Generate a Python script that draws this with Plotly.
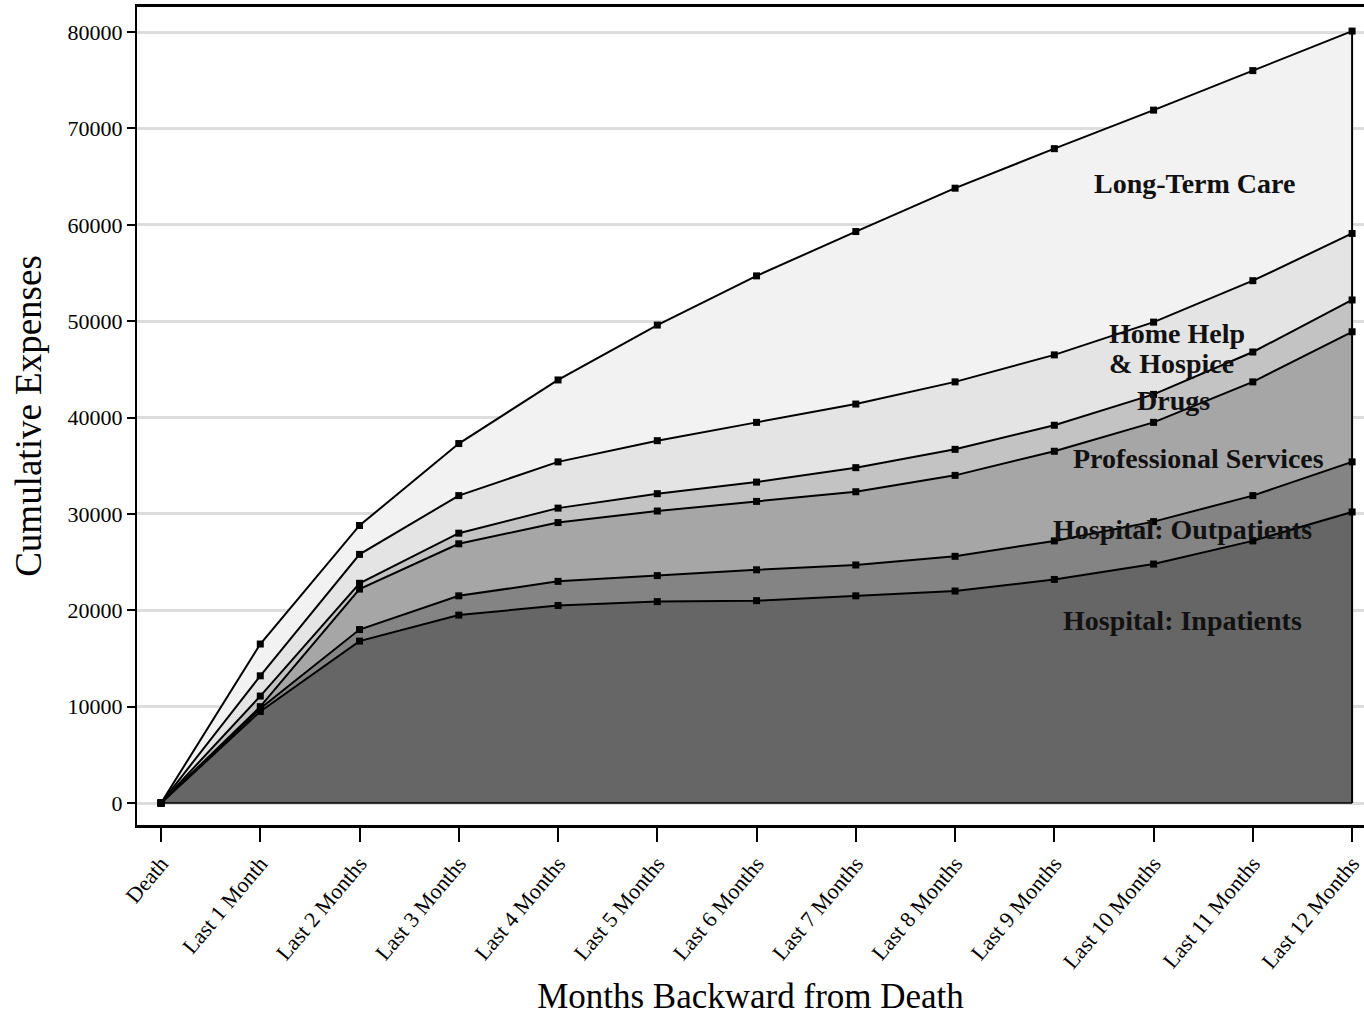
import plotly.graph_objects as go

categories = ["Death", "Last 1 Month", "Last 2 Months", "Last 3 Months", "Last 4 Months",
              "Last 5 Months", "Last 6 Months", "Last 7 Months", "Last 8 Months",
              "Last 9 Months", "Last 10 Months", "Last 11 Months", "Last 12 Months"]

# cumulative (stacked) totals
inpatients    = [0, 9500, 16800, 19500, 20500, 20900, 21000, 21500, 22000, 23200, 24800, 27200, 30200]
outpatients   = [0, 9800, 18000, 21500, 23000, 23600, 24200, 24700, 25600, 27200, 29200, 31900, 35400]
professional  = [0, 10000, 22200, 26900, 29100, 30300, 31300, 32300, 34000, 36500, 39500, 43700, 48900]
drugs         = [0, 11100, 22800, 28000, 30600, 32100, 33300, 34800, 36700, 39200, 42400, 46800, 52200]
home_help     = [0, 13200, 25800, 31900, 35400, 37600, 39500, 41400, 43700, 46500, 49900, 54200, 59100]
long_term     = [0, 16500, 28800, 37300, 43900, 49600, 54700, 59300, 63800, 67900, 71900, 76000, 80100]

series = [
    ("Hospital: Inpatients", inpatients, "#666666"),
    ("Hospital: Outpatients", outpatients, "#848484"),
    ("Professional Services", professional, "#a6a6a6"),
    ("Drugs", drugs, "#c3c3c3"),
    ("Home Help & Hospice", home_help, "#e4e4e4"),
    ("Long-Term Care", long_term, "#f2f2f2"),
]

labels = [
    ("Long-Term Care", 10.41, 64300),
    ("Home Help", 10.24, 48700),
    ("& Hospice", 10.18, 45600),
    ("Drugs", 10.20, 41800),
    ("Professional Services", 10.45, 35800),
    ("Hospital: Outpatients", 10.29, 28400),
    ("Hospital: Inpatients", 10.29, 18900),
]

y_ticks = [0, 10000, 20000, 30000, 40000, 50000, 60000, 70000, 80000]

xs = list(range(len(categories)))
fig = go.Figure()
for i, (name, vals, col) in enumerate(series):
    fig.add_trace(go.Scatter(
        x=xs, y=vals, name=name, mode="lines+markers",
        fill="tozeroy" if i == 0 else "tonexty", fillcolor=col,
        line=dict(color="black", width=2),
        marker=dict(symbol="square", size=7, color="black"),
        showlegend=False, hoverinfo="skip"))

# right edge and bottom edge outline of the stacked area
fig.add_trace(go.Scatter(x=[xs[-1], xs[-1]], y=[0, long_term[-1]], mode="lines",
                         line=dict(color="black", width=2), showlegend=False, hoverinfo="skip"))
fig.add_trace(go.Scatter(x=[xs[0], xs[-1]], y=[0, 0], mode="lines",
                         line=dict(color="black", width=1.5), showlegend=False, hoverinfo="skip"))

for text, x, y in labels:
    fig.add_annotation(x=x, y=y, text="<b>" + text + "</b>", showarrow=False,
                       font=dict(family="Liberation Serif", size=28, color="#111111"))

fig.update_layout(
    width=1364, height=1016,
    margin=dict(l=137, r=0, t=7, b=191),
    paper_bgcolor="white", plot_bgcolor="white",
    font=dict(family="Liberation Serif", color="black"),
)
fig.update_xaxes(
    range=[-0.242, 12.12], tickvals=xs, ticktext=categories, tickangle=-50,
    tickfont=dict(size=22, family="Liberation Serif", color="black"),
    ticklabeloverflow="allow",
    showgrid=False, zeroline=False, showline=True, linecolor="black", linewidth=3,
    mirror=True, ticks="outside", ticklen=14, tickwidth=1.5, tickcolor="black",
    title=dict(text="Months Backward from Death", font=dict(size=35, family="Liberation Serif"), standoff=12),
)
fig.update_yaxes(
    range=[-2280, 82600], tickvals=y_ticks, ticktext=[str(v) for v in y_ticks],
    tickfont=dict(size=22, family="Liberation Serif", color="black"),
    showgrid=True, gridcolor="#dddddd", gridwidth=2.5, zeroline=False,
    showline=True, linecolor="black", linewidth=2, mirror=False,
    ticks="outside", ticklen=8, tickwidth=1.5, tickcolor="black",
    title=dict(text="Cumulative Expenses", font=dict(size=37, family="Liberation Serif"), standoff=15),
)

fig.write_html("out.html")
